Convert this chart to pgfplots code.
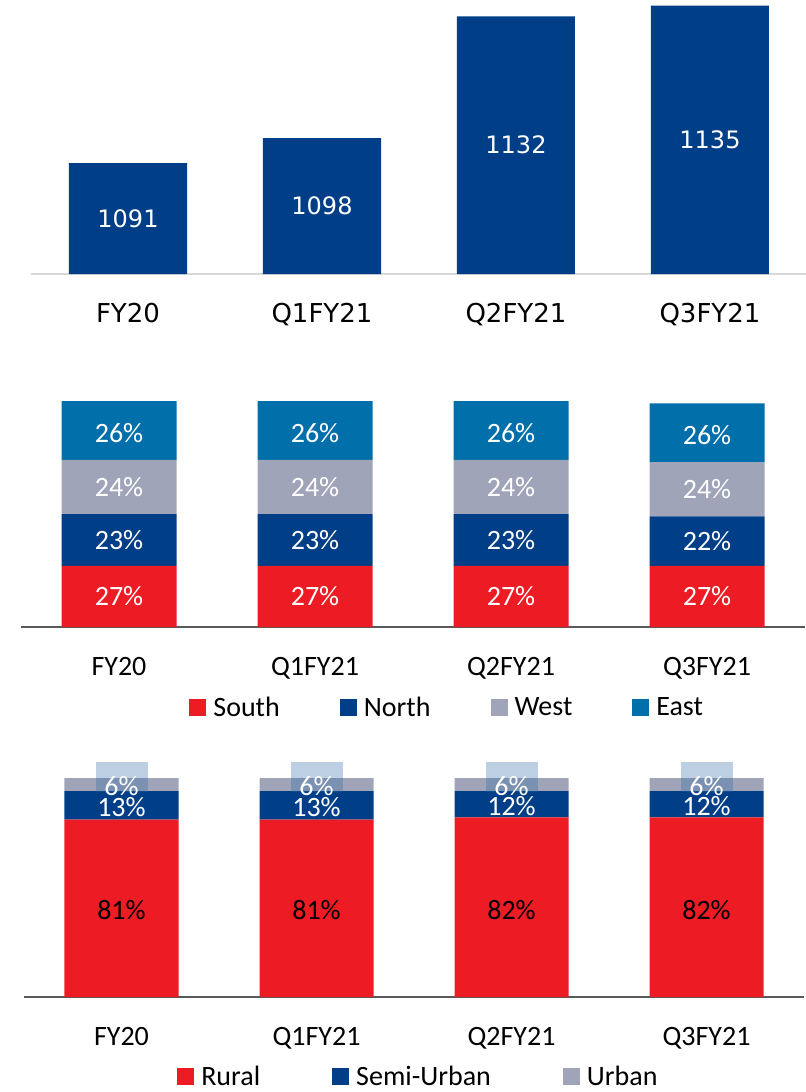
\documentclass[border=0pt]{standalone}
\usepackage{pgfplots}
\pgfplotsset{compat=1.18}
\usepackage{fontspec}
\setmainfont{Carlito}
\newfontfamily\dejavu{DejaVu Sans}

\definecolor{navy}{HTML}{003F87}
\definecolor{southred}{HTML}{ED1C24}
\definecolor{westgray}{HTML}{A0A4B8}
\definecolor{eastblue}{HTML}{006FAA}
\definecolor{boxblue}{HTML}{2E69A7}
\definecolor{axisdark}{HTML}{595959}
\definecolor{axislight}{HTML}{D9D9D9}

\pgfplotsset{
  base/.style={scale only axis, xmin=-0.5, xmax=3.5,
    axis y line=none, axis x line*=bottom, ytick=\empty,
    xtick={0,1,2,3}, major tick length=0pt,
    xticklabels={FY20,Q1FY21,Q2FY21,Q3FY21},
    xticklabel style={anchor=base, yshift=-24pt, font=\fontsize{14}{16}\selectfont},
    x axis line style={draw=axisdark, line width=0.9pt}},
  over/.style={scale only axis, xmin=-0.5, xmax=3.5, hide axis, clip=false},
  lbl/.style={draw=none, mark=none, nodes near coords, point meta=explicit symbolic,
    nodes near coords style={anchor=center, inner sep=0pt, font=\fontsize{14}{16}\selectfont}},
  sq/.style={legend image code/.code={\fill[##1] (0pt,-4pt) rectangle (8.5pt,4.5pt);}},
}

\begin{document}
\begin{tikzpicture}
\useasboundingbox (0,0) rectangle (402.5pt,-546pt);

% top chart: absolute values
\begin{axis}[base, at={(15.5pt,-137pt)}, anchor=south west,
    width=388pt, height=136pt, ymin=1060, ymax=1136,
    x axis line style={draw=axislight, line width=1pt},
    xticklabel style={font=\dejavu\fontsize{13}{15}\selectfont}]
  \addplot[ybar, bar width=59pt, fill=navy, draw=none]
    coordinates {(0,1091) (1,1098) (2,1132) (3,1135)};
\end{axis}
\begin{axis}[over, at={(15.5pt,-137pt)}, anchor=south west,
    width=388pt, height=136pt, ymin=1060, ymax=1136]
  \addplot[lbl, nodes near coords style={text=white, font=\dejavu\fontsize{12}{14}\selectfont}]
    coordinates {(0,1075.5)[1091] (1,1079)[1098] (2,1096)[1132] (3,1097.5)[1135]};
\end{axis}

% middle chart: by region
\begin{axis}[base, at={(10.5pt,-313.5pt)}, anchor=south west,
    width=392pt, height=113pt, ymin=0, ymax=100,
    ybar stacked, bar width=57.5pt,
    legend columns=4,
    legend style={at={(0.2143,-0.36)}, anchor=west, draw=none, fill=none,
      inner sep=0pt, font=\fontsize{14}{16}\selectfont,
      /tikz/every odd column/.append style={column sep=1.5pt},
      /tikz/every even column/.append style={column sep=28pt}}]
  \addplot[sq, fill=southred, draw=none] coordinates {(0,27) (1,27) (2,27) (3,27)};
  \addplot[sq, fill=navy, draw=none] coordinates {(0,23) (1,23) (2,23) (3,22)};
  \addplot[sq, fill=westgray, draw=none] coordinates {(0,24) (1,24) (2,24) (3,24)};
  \addplot[sq, fill=eastblue, draw=none] coordinates {(0,26) (1,26) (2,26) (3,26)};
  \legend{South,North,West,East}
\end{axis}
\begin{axis}[over, at={(10.5pt,-313.5pt)}, anchor=south west,
    width=392pt, height=113pt, ymin=0, ymax=100]
  \addplot[lbl, nodes near coords style={text=white}]
    coordinates {(0,13.5)[27\%] (1,13.5)[27\%] (2,13.5)[27\%] (3,13.5)[27\%]};
  \addplot[lbl, nodes near coords style={text=white}]
    coordinates {(0,38.5)[23\%] (1,38.5)[23\%] (2,38.5)[23\%] (3,38)[22\%]};
  \addplot[lbl, nodes near coords style={text=white}]
    coordinates {(0,62)[24\%] (1,62)[24\%] (2,62)[24\%] (3,61)[24\%]};
  \addplot[lbl, nodes near coords style={text=white}]
    coordinates {(0,86)[26\%] (1,86)[26\%] (2,86)[26\%] (3,85)[26\%]};
\end{axis}

% bottom chart: by location
\begin{axis}[base, at={(12pt,-498.5pt)}, anchor=south west,
    width=390pt, height=109.5pt, ymin=0, ymax=100,
    ybar stacked, bar width=57pt,
    legend columns=3,
    legend style={at={(0.196,-0.365)}, anchor=west, draw=none, fill=none,
      inner sep=0pt, font=\fontsize{14}{16}\selectfont,
      /tikz/every odd column/.append style={column sep=1.5pt},
      /tikz/every even column/.append style={column sep=34pt}}]
  \addplot[sq, fill=southred, draw=none] coordinates {(0,81) (1,81) (2,82) (3,82)};
  \addplot[sq, fill=navy, draw=none] coordinates {(0,13) (1,13) (2,12) (3,12)};
  \addplot[sq, fill=westgray, draw=none] coordinates {(0,6) (1,6) (2,6) (3,6)};
  \legend{Rural,Semi-Urban,Urban}
\end{axis}
\begin{axis}[over, at={(12pt,-498.5pt)}, anchor=south west,
    width=390pt, height=109.5pt, ymin=0, ymax=100]
  \addplot[draw=none, mark=none, nodes near coords={},
    nodes near coords style={anchor=center, inner sep=0pt, fill=boxblue,
      fill opacity=0.32, minimum width=26pt, minimum height=15pt}]
    coordinates {(0,100.5) (1,100.5) (2,100.5) (3,100.5)};
  \addplot[lbl, nodes near coords style={text=black}]
    coordinates {(0,39.7)[81\%] (1,39.7)[81\%] (2,39.7)[82\%] (3,39.7)[82\%]};
  \addplot[lbl, nodes near coords style={text=white}]
    coordinates {(0,86.8)[13\%] (1,86.8)[13\%] (2,87)[12\%] (3,87)[12\%]};
  \addplot[lbl, nodes near coords style={text=white}]
    coordinates {(0,96.3)[6\%] (1,96.3)[6\%] (2,96.3)[6\%] (3,96.3)[6\%]};
\end{axis}
\end{tikzpicture}
\end{document}
